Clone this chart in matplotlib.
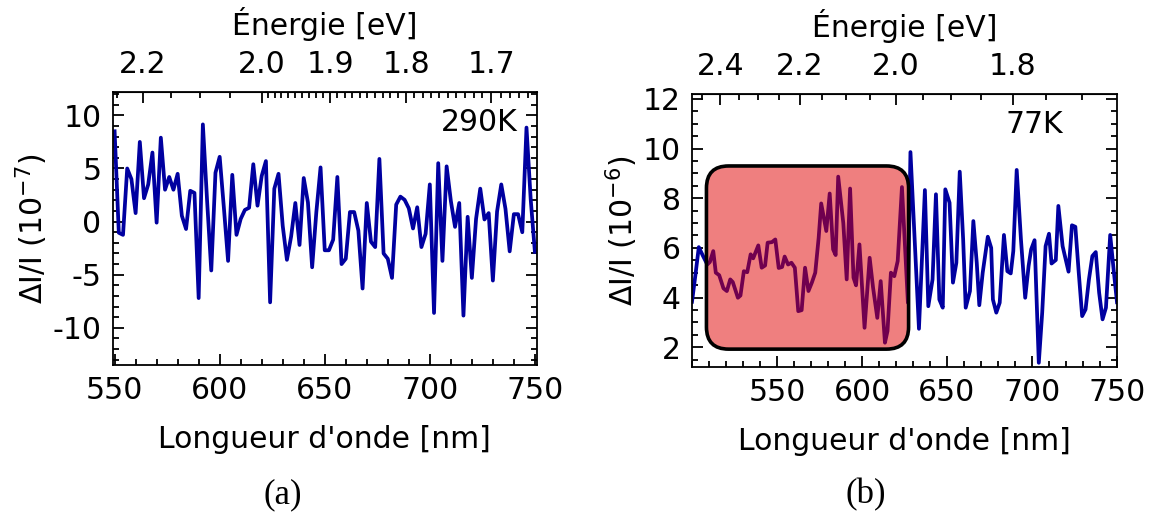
import numpy as np
import matplotlib.pyplot as plt
from matplotlib.patches import FancyBboxPatch
from matplotlib.ticker import MultipleLocator, FixedLocator

plt.rcParams['font.family'] = 'DejaVu Sans'
plt.rcParams['mathtext.fontset'] = 'dejavusans'
plt.rcParams['axes.unicode_minus'] = False

HC = 1239.84  # eV*nm

# (a) 290K, wavelength [nm] and dI/I [1e-7]
wl_290 = np.arange(550, 751, 2)
dI_290 = [8.5, -1.05, -1.25, 5.0, 4.0, 0.8, 7.5, 2.2, 3.5, 6.5,
          -0.1, 7.9, 3.0, 4.2, 3.0, 4.5, 0.55, -0.7, 2.9, 2.7,
          -7.2, 9.15, 2.0, -4.6, 4.6, 6.1, 1.3, -3.7, 4.4, -1.25,
          0.25, 1.1, 1.3, 5.4, 1.5, 4.3, 5.7, -7.6, 3.1, 4.5,
          -0.4, -3.6, -1.4, 1.75, -2.2, 4.1, 1.8, -4.3, 0.9, 5.1,
          -2.7, -2.7, -1.7, 4.2, -4.0, -3.5, 0.9, 0.9, -0.85, -6.3,
          1.75, -1.9, -2.4, 5.9, -3.0, -3.5, -5.3, 1.6, 2.35, 2.05,
          1.25, -0.65, 1.35, -2.4, -1.15, 3.5, -8.6, 5.5, -3.7, 5.2,
          1.95, -0.5, 1.75, -8.85, 0.45, -5.3, 0.25, 3.1, 0.2, 0.8,
          -5.55, 0.95, 3.5, 1.2, -2.8, 0.7, 0.7, -1.0, 8.85, 2.1, -2.85]

# (b) 77K, wavelength [nm] and dI/I [1e-6]
wl_77 = [500, 502, 504, 506.5, 509, 510.5, 512.5, 514, 516, 518.5,
         520.5, 522.5, 524, 527, 528.5, 530.5, 532.5, 534.5, 536, 539,
         541, 543, 544.5, 547, 549, 551, 553, 554.5, 556.5, 558.5,
         560.5, 562.5, 564.5, 566.5, 568.5, 570.5, 572.5, 574.5, 576, 579,
         581, 583, 584.5, 586, 589, 591, 593, 595, 596.5, 598.5,
         601.5, 604.5, 606.5, 609, 611, 613.5, 615, 617, 619, 621,
         623.5, 627, 628.5, 633.5, 637, 639, 641.5, 643.5, 645.5, 647.5,
         649, 651.5, 653.5, 655.5, 657.5, 659.5, 661, 663.5, 665.5, 667.5,
         669, 671, 674, 676, 677, 679, 681, 683.5, 685.5, 687.5,
         689, 691, 693.5, 696, 698, 699.5, 701.5, 704, 706, 708,
         710, 711.5, 714, 715.5, 718, 721.5, 723.5, 725.5, 727.5, 729.5,
         731.5, 733.5, 735.5, 737.5, 739.5, 741.5, 743.5, 746, 748, 750]
dI_77 = [3.83, 4.9, 6.03, 5.67, 5.33, 5.43, 5.87, 5.0, 4.9, 4.37,
         4.26, 4.73, 4.62, 3.99, 4.08, 5.06, 5.02, 5.74, 5.58, 6.10,
         5.20, 5.29, 6.21, 6.23, 6.34, 5.19, 5.23, 5.65, 5.33, 5.40,
         5.20, 3.45, 3.49, 5.20, 4.26, 4.60, 5.0, 6.4, 7.79, 6.68,
         8.19, 5.94, 5.71, 8.87, 7.0, 4.73, 8.39, 4.8, 4.49, 6.14,
         2.78, 5.6, 4.4, 3.18, 4.66, 2.18, 2.65, 5.0, 4.86, 5.47,
         8.45, 3.79, 9.86, 2.74, 8.33, 3.65, 4.73, 8.16, 3.92, 3.59,
         8.36, 7.82, 4.6, 5.4, 9.07, 6.34, 3.59, 4.26, 7.08, 5.4,
         3.69, 5.0, 6.45, 6.0, 3.92, 3.39, 3.79, 6.52, 5.06, 4.97,
         5.87, 9.14, 6.34, 3.99, 5.27, 5.94, 6.31, 1.37, 3.39, 6.07,
         6.57, 5.37, 5.51, 7.69, 6.07, 5.04, 6.91, 6.85, 5.0, 3.25,
         3.52, 4.73, 5.67, 5.83, 4.19, 3.12, 3.59, 6.52, 5.13, 3.81]

FS = 21.5
LINE = '#0000a0'


def to_ev(x):
    return HC / np.asarray(x, dtype=float)


def style_axes(ax):
    for s in ax.spines.values():
        s.set_linewidth(1.3)
    ax.tick_params(which='both', direction='in', left=True, right=True,
                   top=False, bottom=True, width=1.3, labelsize=FS)
    ax.tick_params(which='major', length=8, pad=8)
    ax.tick_params(which='minor', length=4)
    ax.set_xlabel("Longueur d'onde [nm]", fontsize=FS, labelpad=14)


def energy_axis(ax, major, labels, minor):
    sec = ax.secondary_xaxis('top', functions=(to_ev, to_ev))
    sec.set_xticks(major, labels)
    sec.xaxis.set_minor_locator(FixedLocator(minor))
    sec.tick_params(which='both', direction='in', width=1.3, labelsize=FS)
    sec.tick_params(which='major', length=8, pad=9)
    sec.tick_params(which='minor', length=4)
    sec.set_xlabel('Énergie [eV]', fontsize=FS, labelpad=11)
    return sec


fig = plt.figure(figsize=(11.52, 5.16), dpi=100)
W, H = 1152, 516

# (a)
ax1 = fig.add_axes([112.5 / W, 1 - 365 / H, 424.5 / W, 273 / H])
ax1.plot(wl_290, dI_290, color=LINE, lw=2.7)
ax1.set_xlim(549, 751)
ax1.set_ylim(-13.5, 12.2)
ax1.set_xticks([550, 600, 650, 700, 750])
ax1.xaxis.set_minor_locator(MultipleLocator(10))
ax1.yaxis.set_major_locator(MultipleLocator(5))
ax1.yaxis.set_minor_locator(MultipleLocator(1))
style_axes(ax1)
ax1.set_ylabel(r'ΔI/I (10$^{-7}$)', fontsize=FS, labelpad=2)
ax1.text(0.955, 0.94, '290K', transform=ax1.transAxes, ha='right',
         va='top', fontsize=FS)
minor_a = [2.25, 2.15, 2.1, 2.05] + list(np.round(np.arange(1.66, 2.0, 0.01), 2))
energy_axis(ax1, [2.2, 2.0, 1.9, 1.8, 1.7],
            ['2.2', '2.0', '1.9', '1.8', '1.7'], minor_a)

# (b)
ax2 = fig.add_axes([692 / W, 1 - 367 / H, 425 / W, 273 / H])
ax2.plot(wl_77, dI_77, color=LINE, lw=2.7)
ax2.set_xlim(500, 750)
ax2.set_ylim(1.2, 12.2)
ax2.set_xticks([550, 600, 650, 700, 750])
ax2.xaxis.set_minor_locator(MultipleLocator(10))
ax2.yaxis.set_major_locator(MultipleLocator(2))
ax2.yaxis.set_minor_locator(MultipleLocator(0.5))
style_axes(ax2)
ax2.set_ylabel(r'ΔI/I (10$^{-6}$)', fontsize=FS, labelpad=2)
ax2.text(0.873, 0.94, '77K', transform=ax2.transAxes, ha='right',
         va='top', fontsize=FS)
energy_axis(ax2, [2.4, 2.2, 2.0, 1.8], ['2.4', '2.2', '2.0', '1.8'],
            list(np.round(np.arange(1.70, 2.46, 0.05), 2)))

# highlighted region, rounded corners kept circular on screen
x0, x1, y0, y1 = 508.5, 627.4, 1.92, 9.3
aspect = (11.0 / 273) / (250.0 / 425)
box = FancyBboxPatch((x0, y0), x1 - x0, y1 - y0,
                     boxstyle='round,pad=0,rounding_size=13',
                     mutation_aspect=aspect, facecolor=(0.88, 0, 0, 0.5),
                     edgecolor='black', lw=2.6, zorder=3)
ax2.add_patch(box)

fig.text(283 / W, 1 - 495 / H, '(a)', ha='center', va='center',
         fontsize=25, family='Liberation Serif')
fig.text(866 / W, 1 - 495 / H, '(b)', ha='center', va='center',
         fontsize=25, family='Liberation Serif')

fig.savefig('out.png', dpi=100)
